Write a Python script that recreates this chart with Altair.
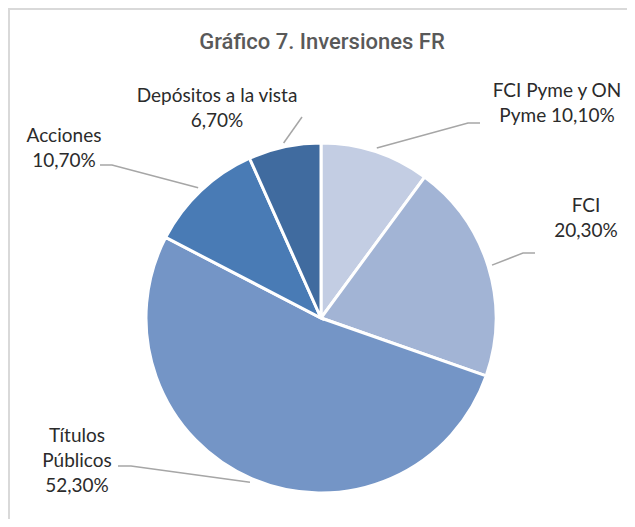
import math
import altair as alt
import pandas as pd

# ---------------- data ----------------
categories = ["FCI Pyme y ON Pyme", "FCI", "Títulos Públicos", "Acciones", "Depósitos a la vista"]
values = [10.1, 20.3, 52.3, 10.7, 6.7]
colors = ["#C3CDE3", "#A2B4D5", "#7495C6", "#497BB5", "#406B9F"]
label_lines = [
    ["FCI Pyme y ON", "Pyme {p}"],
    ["FCI", "{p}"],
    ["Títulos", "Públicos", "{p}"],
    ["Acciones", "{p}"],
    ["Depósitos a la vista", "{p}"],
]
title_text = "Gráfico 7. Inversiones FR"

# ---------------- layout (pixels in the page, minus the 8px margin) ----------------
OFF = 8
W, H = 635 - 2 * OFF, 527 - 2 * OFF
CX, CY, R = 321 - OFF, 318 - OFF, 175
R_LEAD = 179
LINE_H = 25
label_anchor = [(557, 97), (586, 212), (77, 442), (64, 142), (217, 102)]
leader_points = [
    [(468, 123), (480, 123)],
    [(523, 253), (535, 253)],
    [(131, 466), (118, 466)],
    [(112, 165), (100, 165)],
    [(302, 117)],
]
TEXT_FONT = "Lato"
TEXT_SIZE = 19
TEXT_COLOR = "#2b2b2b"
LEAD_COLOR = "#A6A6A6"


def fmt(v):
    return f"{v:.2f}".replace(".", ",") + "%"


pie_df = pd.DataFrame({"category": categories, "value": values, "idx": range(len(values))})

total = sum(values)
cum = 0.0
line_rows, text_rows = [], []
for i, (cat, v) in enumerate(zip(categories, values)):
    mid = (cum + v / 2) / total * 2 * math.pi
    cum += v
    sx = CX + R_LEAD * math.sin(mid)
    sy = CY - R_LEAD * math.cos(mid)
    pts = [(sx, sy)] + [(px - OFF, py - OFF) for px, py in leader_points[i]]
    for k, (px, py) in enumerate(pts):
        line_rows.append({"key": cat, "o": k, "x": px, "y": py})
    ax, ay = label_anchor[i]
    for j, ln in enumerate(label_lines[i]):
        text_rows.append({"t": ln.format(p=fmt(v)), "x": ax - OFF, "y": ay - OFF + j * LINE_H})

line_df = pd.DataFrame(line_rows)
text_df = pd.DataFrame(text_rows)

xs = alt.Scale(domain=[0, W], range=[0, W], nice=False, zero=False)
ys = alt.Scale(domain=[0, H], range=[0, H], nice=False, zero=False)

pie = alt.Chart(pie_df).mark_arc(outerRadius=R, stroke="white", strokeWidth=3).encode(
    theta=alt.Theta("value:Q", stack=True),
    color=alt.Color("category:N", scale=alt.Scale(domain=categories, range=colors), legend=None),
    order=alt.Order("idx:Q"),
    x=alt.value(CX),
    y=alt.value(CY),
)

leaders = alt.Chart(line_df).mark_line(color=LEAD_COLOR, strokeWidth=1.5).encode(
    x=alt.X("x:Q", scale=xs, axis=None),
    y=alt.Y("y:Q", scale=ys, axis=None),
    detail="key:N",
    order="o:Q",
)

labels = alt.Chart(text_df).mark_text(
    align="center", baseline="alphabetic", font=TEXT_FONT, fontSize=TEXT_SIZE, color=TEXT_COLOR
).encode(
    x=alt.X("x:Q", scale=xs, axis=None),
    y=alt.Y("y:Q", scale=ys, axis=None),
    text="t:N",
)

title = alt.Chart(pd.DataFrame({"t": [title_text]})).mark_text(
    align="center", baseline="alphabetic", font="Roboto", fontSize=22, fontWeight=500, color="#595959"
).encode(x=alt.value(322 - OFF), y=alt.value(49 - OFF), text="t:N")

border_top = alt.Chart(pd.DataFrame({"a": [0]})).mark_rule(color="#D9D9D9", strokeWidth=2).encode(
    x=alt.value(0), x2=alt.value(W), y=alt.value(1)
)
border_left = alt.Chart(pd.DataFrame({"a": [0]})).mark_rule(color="#D9D9D9", strokeWidth=2).encode(
    y=alt.value(0), y2=alt.value(H), x=alt.value(1)
)

chart = (
    alt.layer(border_top, border_left, leaders, pie, labels, title)
    .properties(width=W, height=H, padding=0, autosize=alt.AutoSizeParams(type="none"))
    .configure_view(stroke=None)
)

chart.save("out.html", embed_options={"renderer": "svg", "actions": False})
